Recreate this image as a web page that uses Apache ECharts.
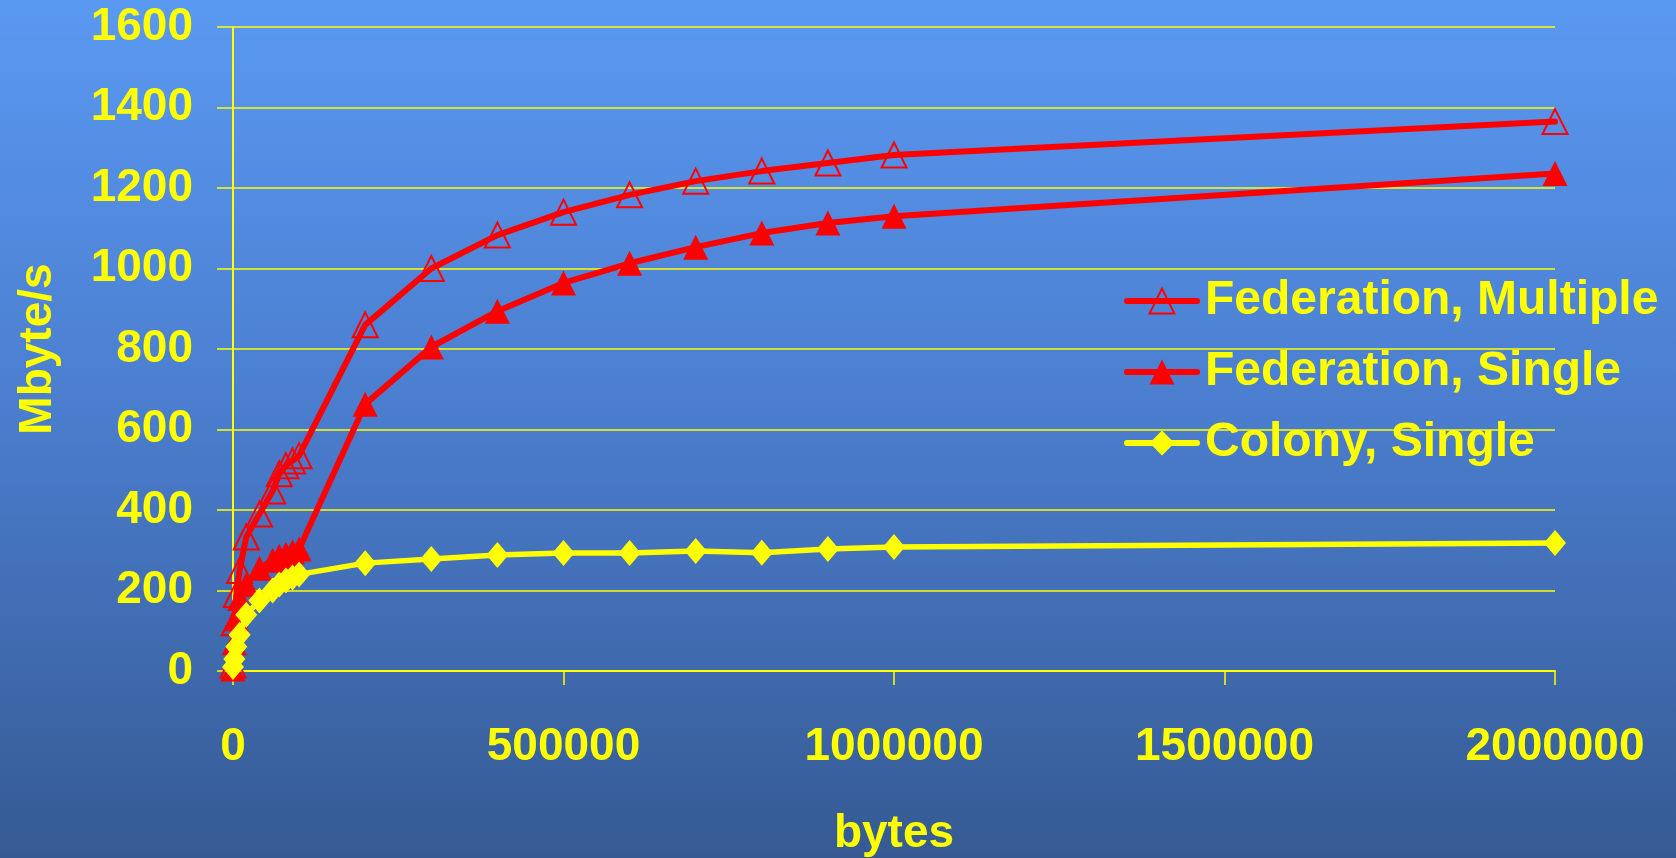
<!DOCTYPE html>
<html>
<head>
<meta charset="utf-8">
<script src="https://cdn.jsdelivr.net/npm/echarts@6/dist/echarts.min.js"></script>
<style>
html,body{margin:0;padding:0;width:1676px;height:858px;overflow:hidden;}
#c{width:1676px;height:858px;}
</style>
</head>
<body>
<div id="c"></div>
<script>
// ---- data ----
var xBytes = [0, 2000, 5000, 10000, 20000, 40000, 60000, 70000, 80000, 90000, 100000,
  200000, 300000, 400000, 500000, 600000, 700000, 800000, 900000, 1000000, 2000000];
var fedMultiple = [15, 120, 190, 250, 333, 390, 447, 490, 510, 522, 535,
  860, 1000, 1083, 1140, 1183, 1217, 1242, 1262, 1282, 1365];
var fedSingle = [5, 70, 130, 180, 215, 255, 275, 285, 290, 296, 303,
  663, 805, 894, 964, 1013, 1053, 1088, 1113, 1130, 1236];
var colonySingle = [10, 30, 60, 90, 140, 175, 200, 215, 225, 232, 240,
  268, 278, 288, 293, 293, 298, 294, 303, 308, 318];
var seriesNames = ['Federation, Multiple', 'Federation, Single', 'Colony, Single'];
var xTitle = 'bytes';
var yTitle = 'Mbyte/s';

function pairs(ys) { return xBytes.map(function (x, i) { return [x, ys[i]]; }); }
function plain(v) { return String(v); }

var YEL = '#ffff00';
var RED = '#ff0000';
var FONT = '"Liberation Sans", Arial, sans-serif';

var chart = echarts.init(document.getElementById('c'), null, {renderer: 'canvas'});
chart.setOption({
  animation: false,
  backgroundColor: {
    type: 'linear', x: 0, y: 0, x2: 0, y2: 1,
    colorStops: [
      {offset: 0, color: '#5a99f2'},
      {offset: 0.5, color: '#4a7ccc'},
      {offset: 1, color: '#355a93'}
    ]
  },
  grid: {left: 233, right: 121, top: 27, bottom: 187, containLabel: false, outerBoundsMode: 'none'},
  legend: {
    left: 1119, top: 272, orient: 'vertical',
    itemWidth: 70, itemHeight: 31, itemGap: 23,
    selectedMode: false,
    lineStyle: {width: 6},
    textStyle: {color: YEL, fontSize: 48, fontWeight: 'bold', fontFamily: FONT, padding: [0, 0, 0, 3]},
    data: seriesNames
  },
  xAxis: {
    type: 'value', min: 0, max: 2000000, interval: 500000,
    name: xTitle, nameLocation: 'middle', nameGap: 140,
    nameTextStyle: {color: YEL, fontSize: 46, fontWeight: 'bold', fontFamily: FONT},
    axisLine: {show: true, onZero: true, lineStyle: {color: YEL, width: 2}},
    axisTick: {show: true, length: 14, lineStyle: {color: YEL, width: 1.5}},
    axisLabel: {color: YEL, fontSize: 46, fontWeight: 'bold', fontFamily: FONT, margin: 53, formatter: plain},
    splitLine: {show: false}
  },
  yAxis: {
    type: 'value', min: 0, max: 1600, interval: 200,
    name: yTitle, nameLocation: 'middle', nameGap: 172, nameRotate: 90,
    nameTextStyle: {color: YEL, fontSize: 46, fontWeight: 'bold', fontFamily: FONT},
    axisLine: {show: true, lineStyle: {color: YEL, width: 2}},
    axisTick: {show: true, length: 16, lineStyle: {color: YEL, width: 1.5}},
    axisLabel: {color: YEL, fontSize: 46, fontWeight: 'bold', fontFamily: FONT, margin: 40, formatter: plain},
    splitLine: {show: true, lineStyle: {color: YEL, width: 1.5}}
  },
  series: [
    {
      name: seriesNames[0], type: 'line', data: pairs(fedMultiple),
      symbol: 'triangle', symbolSize: 25,
      lineStyle: {color: RED, width: 6, cap: 'round'},
      itemStyle: {color: 'rgba(0,0,0,0)', borderColor: RED, borderWidth: 2},
      z: 2
    },
    {
      name: seriesNames[1], type: 'line', data: pairs(fedSingle),
      symbol: 'triangle', symbolSize: 25,
      lineStyle: {color: RED, width: 6, cap: 'round'},
      itemStyle: {color: RED, borderColor: RED, borderWidth: 0},
      z: 3
    },
    {
      name: seriesNames[2], type: 'line', data: pairs(colonySingle),
      symbol: 'diamond', symbolSize: [22, 26],
      lineStyle: {color: YEL, width: 5.5, cap: 'round'},
      itemStyle: {color: YEL, borderColor: YEL, borderWidth: 0},
      z: 4
    }
  ]
});
</script>
</body>
</html>
